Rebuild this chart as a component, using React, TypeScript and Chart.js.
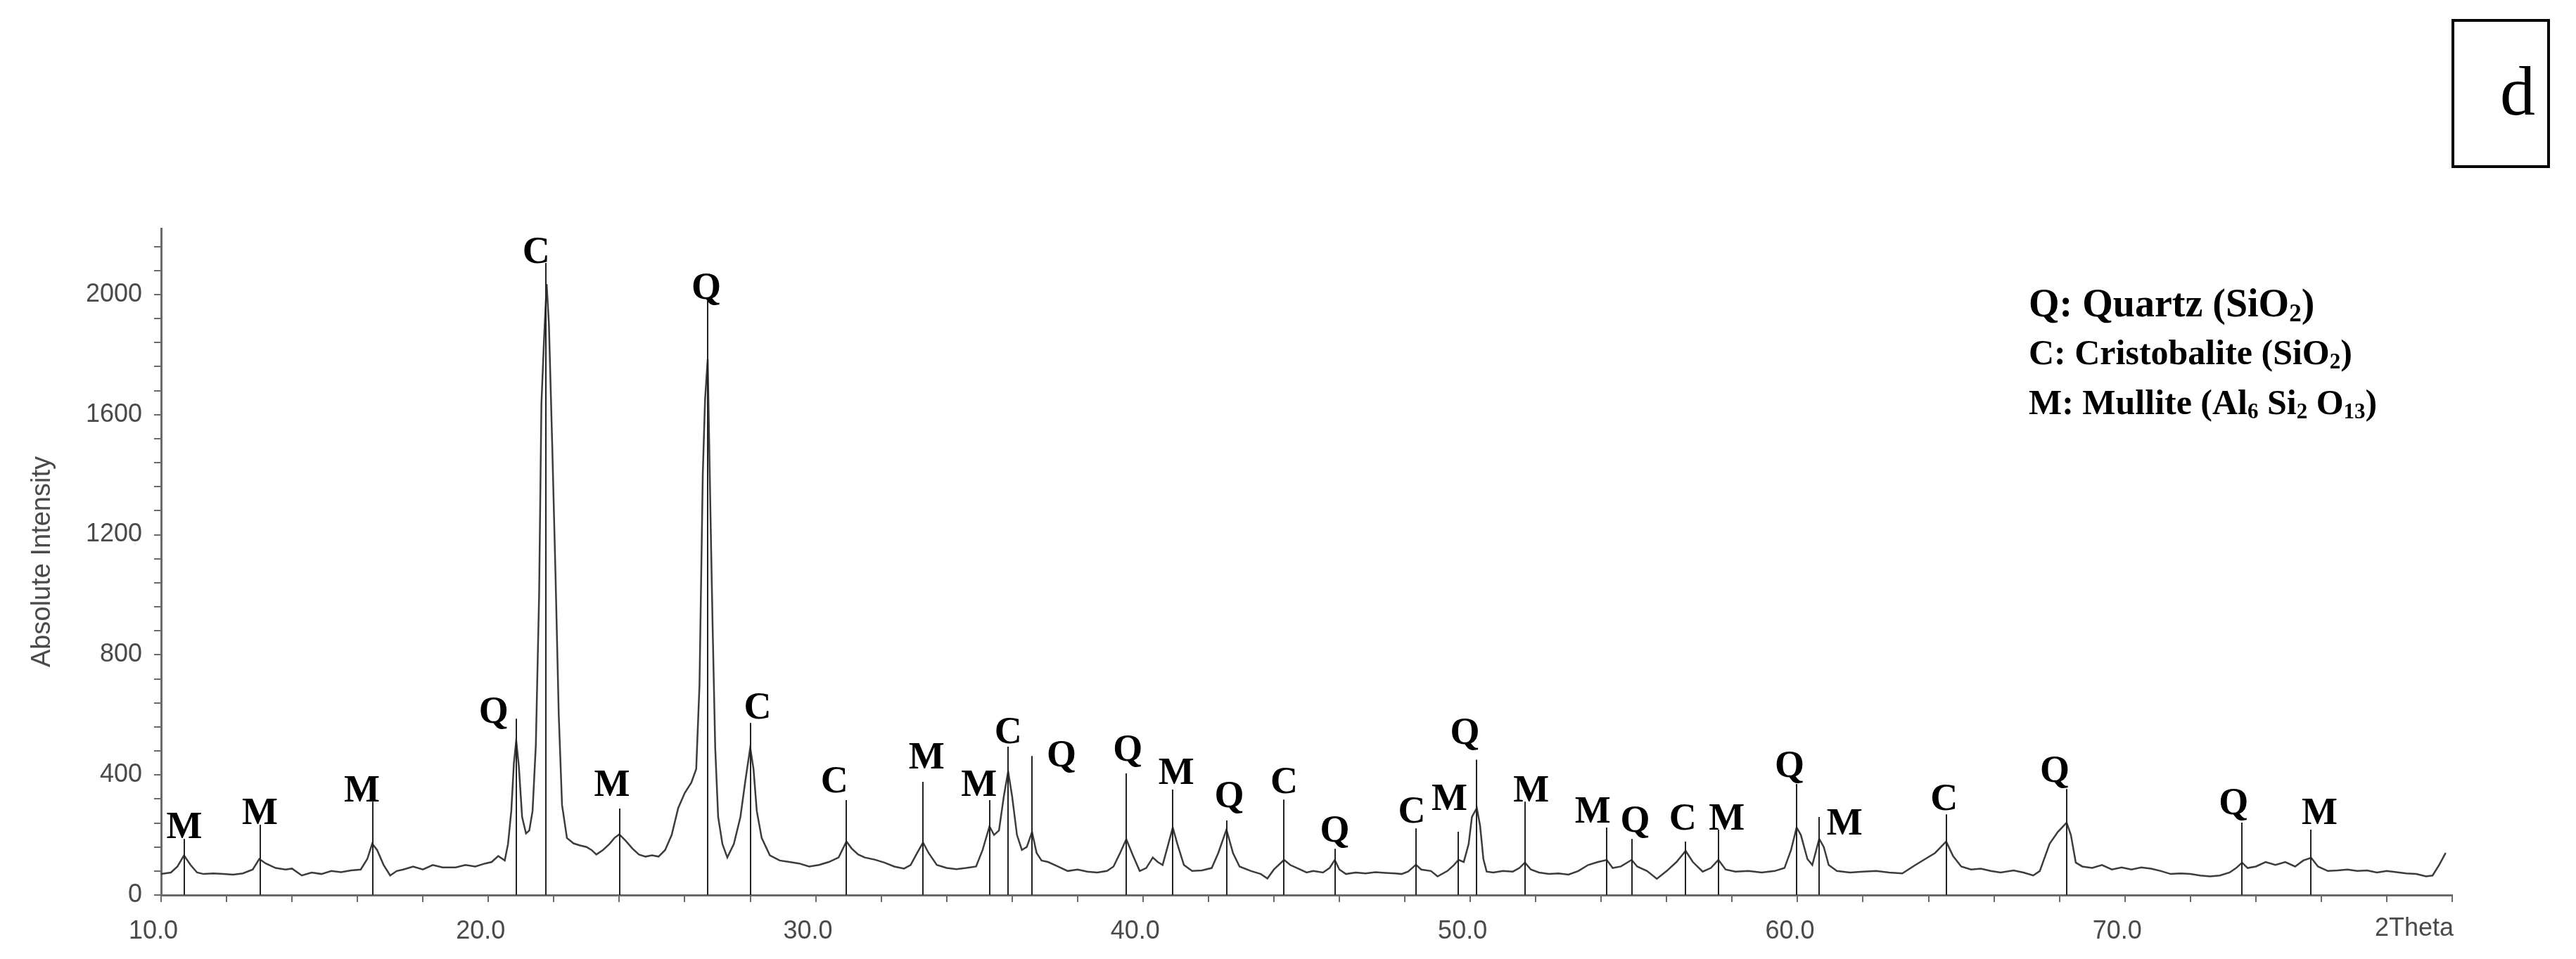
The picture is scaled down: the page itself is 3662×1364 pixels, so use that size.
import React, { useEffect, useRef } from 'react';
import { Chart, registerables } from 'chart.js';

Chart.register(...registerables);

// ---- Diffractogram (2Theta in degrees, counts) ----
const TWO_THETA: number[] = [
  10.0, 10.3, 10.5, 10.7, 10.9, 11.1, 11.3, 11.6, 11.9, 12.2, 12.5, 12.8, 13.0, 13.2, 13.5, 13.8,
  14.0, 14.3, 14.6, 14.9, 15.2, 15.5, 15.8, 16.1, 16.3, 16.45, 16.6, 16.8, 17.0, 17.2, 17.4, 17.7,
  18.0, 18.3, 18.6, 19.0, 19.3, 19.6, 19.9, 20.1, 20.3, 20.5, 20.6, 20.7, 20.78, 20.85, 20.93, 21.03,
  21.15, 21.25, 21.35, 21.45, 21.55, 21.62, 21.7, 21.78, 21.85, 21.95, 22.05, 22.15, 22.25, 22.4,
  22.6, 22.8, 23.0, 23.15, 23.3, 23.5, 23.7, 23.85, 24.0, 24.2, 24.4, 24.6, 24.8, 25.0, 25.2, 25.4,
  25.6, 25.8, 26.0, 26.2, 26.35, 26.45, 26.55, 26.62, 26.7, 26.78, 26.85, 26.93, 27.02, 27.15, 27.3,
  27.5, 27.7, 27.85, 28.0, 28.1, 28.2, 28.35, 28.6, 28.9, 29.2, 29.5, 29.8, 30.1, 30.4, 30.7, 30.94,
  31.1, 31.3, 31.5, 31.8, 32.1, 32.4, 32.7, 32.9, 33.1, 33.28, 33.45, 33.7, 34.0, 34.3, 34.6, 34.9,
  35.1, 35.31, 35.45, 35.6, 35.75, 35.88, 36.0, 36.15, 36.3, 36.45, 36.61, 36.75, 36.9, 37.1, 37.4,
  37.7, 38.0, 38.3, 38.6, 38.9, 39.1, 39.3, 39.49, 39.7, 39.9, 40.1, 40.3, 40.45, 40.6, 40.75, 40.91,
  41.05, 41.25, 41.5, 41.8, 42.1, 42.3, 42.55, 42.75, 42.95, 43.3, 43.6, 43.8, 44.0, 44.31, 44.5,
  44.8, 45.0, 45.2, 45.5, 45.7, 45.86, 46.0, 46.2, 46.5, 46.8, 47.1, 47.4, 47.7, 47.9, 48.1, 48.34,
  48.5, 48.8, 49.0, 49.3, 49.5, 49.64, 49.8, 49.95, 50.05, 50.2, 50.3, 50.4, 50.5, 50.7, 51.0, 51.3,
  51.5, 51.67, 51.85, 52.1, 52.4, 52.7, 53.0, 53.3, 53.6, 53.9, 54.17, 54.35, 54.6, 54.93, 55.1,
  55.4, 55.7, 56.0, 56.3, 56.58, 56.8, 57.1, 57.35, 57.58, 57.8, 58.1, 58.5, 58.9, 59.3, 59.6, 59.8,
  59.97, 60.1, 60.3, 60.45, 60.66, 60.8, 60.95, 61.2, 61.6, 62.0, 62.4, 62.8, 63.2, 63.6, 63.9, 64.2,
  64.54, 64.75, 65.0, 65.3, 65.6, 65.9, 66.2, 66.6, 66.9, 67.2, 67.4, 67.7, 67.95, 68.22, 68.35, 68.5,
  68.7, 69.0, 69.3, 69.6, 69.9, 70.2, 70.5, 70.8, 71.1, 71.4, 71.7, 72.0, 72.3, 72.6, 72.9, 73.2,
  73.4, 73.58, 73.75, 74.0, 74.3, 74.6, 74.9, 75.2, 75.45, 75.69, 75.9, 76.2, 76.5, 76.8, 77.1, 77.4,
  77.7, 78.0, 78.3, 78.6, 78.9, 79.2, 79.4, 79.6, 79.8,
];

const INTENSITY: number[] = [
  70, 75, 95, 132, 100, 75, 70, 72, 70, 68, 72, 85, 120, 105, 90, 85,
  88, 65, 75, 70, 80, 76, 82, 85, 120, 171, 150, 100, 65, 80, 85, 95,
  85, 100, 92, 92, 100, 95, 105, 110, 130, 115, 170, 280, 440, 515, 430, 260,
  205, 215, 280, 500, 1000, 1635, 1850, 2035, 1900, 1500, 1070, 600, 300, 190,
  172, 165, 160, 150, 135, 150, 170, 190, 202, 180, 155, 135, 128, 132, 128, 150,
  200, 290, 340, 374, 420, 700, 1400, 1650, 1785, 1300, 900, 490, 260, 170, 125,
  170, 260, 380, 491, 420, 280, 190, 132, 115, 110, 105, 95, 100, 110, 125, 178,
  155, 135, 125, 118, 108, 95, 88, 100, 140, 175, 140, 100, 90, 86, 90, 95,
  150, 229, 200, 215, 330, 412, 330, 200, 150, 160, 210, 140, 115, 110, 95,
  80, 85, 78, 75, 80, 95, 140, 186, 130, 80, 90, 125, 110, 100, 160, 225,
  170, 100, 80, 82, 90, 140, 218, 140, 95, 80, 70, 55, 85, 117, 100,
  85, 75, 80, 75, 90, 117, 85, 70, 75, 72, 76, 74, 72, 70, 78, 101,
  85, 80, 62, 80, 100, 117, 110, 170, 260, 290, 230, 120, 78, 75, 80, 78,
  90, 108, 85, 75, 70, 72, 68, 80, 100, 110, 117, 90, 95, 117, 95,
  80, 54, 80, 110, 147, 110, 78, 90, 117, 85, 78, 80, 75, 80, 90, 150,
  225, 200, 120, 100, 187, 160, 100, 80, 75, 78, 80, 75, 72, 100, 120, 140,
  178, 130, 95, 85, 88, 80, 75, 82, 75, 65, 80, 171, 210, 241, 200, 108,
  95, 90, 100, 85, 92, 85, 92, 88, 80, 70, 72, 70, 65, 62, 65, 75,
  90, 108, 90, 95, 110, 100, 110, 95, 115, 124, 95, 80, 82, 85, 80, 82,
  75, 80, 76, 72, 70, 62, 65, 100, 140,
];

// ---- Phase identification markers ----
const PEAK_THETA: number[] = [
  10.71, 13.02, 16.46, 20.85, 21.76, 24.01, 26.70, 28.01, 30.94, 33.28, 35.31, 35.88, 36.61, 39.49,
  40.91, 42.55, 44.31, 45.86, 48.34, 49.64, 50.20, 51.67, 54.17, 54.93, 56.58, 57.58, 59.97, 60.66,
  64.54, 68.22, 73.58, 75.69,
];
const PEAK_PHASE: string[] = [
  'M', 'M', 'M', 'Q', 'C', 'M', 'Q', 'C', 'C', 'M', 'M', 'C', 'Q', 'Q',
  'M', 'Q', 'C', 'Q', 'C', 'M', 'Q', 'M', 'M', 'Q', 'C', 'M', 'Q', 'M',
  'C', 'Q', 'Q', 'M',
];
// top of each marker stick, in counts
const PEAK_STICK: number[] = [
  187, 234, 311, 587, 2105, 288, 1979, 573, 316, 377, 316, 494, 463, 405,
  351, 248, 318, 154, 222, 211, 451, 311, 225, 187, 178, 218, 370, 260,
  269, 353, 241, 218,
];

// label placement (baseline level in counts, horizontal nudge in px)
const LABEL_LEVEL: number[] = [
  189, 236, 311, 573, 2105, 330, 1986, 587, 342, 421, 330, 505, 428, 447,
  370, 292, 339, 178, 241, 283, 503, 311, 241, 211, 218, 218, 393, 201,
  283, 377, 269, 236,
];
const LABEL_NUDGE: number[] = [
  0, 0, -15, -32, -14, -11, -2, 10, -17, 5, -15, 0, 42, 2,
  5, 4, 0, 0, -6, -13, -17, 9, -20, 5, -4, 12, -10, 36,
  -3, -17, -12, 12,
];

const LEGEND_LINES: { text: string; sub?: boolean }[][] = [
  [{ text: 'Q: Quartz (SiO' }, { text: '2', sub: true }, { text: ')' }],
  [{ text: 'C: Cristobalite (SiO' }, { text: '2', sub: true }, { text: ')' }],
  [
    { text: 'M: Mullite (Al' }, { text: '6', sub: true }, { text: ' Si' }, { text: '2', sub: true },
    { text: ' O' }, { text: '13', sub: true }, { text: ')' },
  ],
];
const LEGEND_SIZES = [56, 50, 50];

const X_LAST_LABEL = '2Theta';
const Y_TITLE = 'Absolute Intensity';
const PANEL_LETTER = 'd';

const SANS = '"Liberation Sans", Arial, sans-serif';
const SERIF = '"Liberation Serif", "Times New Roman", serif';
const AXIS_GRAY = '#6a6a6a';
const TEXT_GRAY = '#4a4a4a';

export default function App() {
  const canvasRef = useRef<HTMLCanvasElement | null>(null);

  useEffect(() => {
    const canvas = canvasRef.current;
    if (!canvas) return;

    const annotations = {
      id: 'xrdAnnotations',
      afterDraw(chart: any) {
        const { ctx } = chart;
        const xs = chart.scales.x;
        const ys = chart.scales.y;
        ctx.save();

        // marker sticks
        ctx.strokeStyle = '#222222';
        ctx.lineWidth = 2;
        PEAK_THETA.forEach((t, i) => {
          const px = Math.round(xs.getPixelForValue(t));
          ctx.beginPath();
          ctx.moveTo(px, ys.getPixelForValue(0));
          ctx.lineTo(px, ys.getPixelForValue(PEAK_STICK[i]));
          ctx.stroke();
        });

        // marker letters
        ctx.fillStyle = '#000000';
        ctx.font = `bold 54px ${SERIF}`;
        ctx.textAlign = 'center';
        ctx.textBaseline = 'alphabetic';
        PEAK_PHASE.forEach((p, i) => {
          const px = xs.getPixelForValue(PEAK_THETA[i]) + LABEL_NUDGE[i];
          const py = ys.getPixelForValue(LABEL_LEVEL[i]);
          ctx.fillText(p, px, py);
        });

        // last x label
        ctx.font = `36px ${SANS}`;
        ctx.fillStyle = TEXT_GRAY;
        ctx.textAlign = 'right';
        ctx.textBaseline = 'top';
        ctx.fillText(X_LAST_LABEL, xs.getPixelForValue(80) + 2, ys.getPixelForValue(0) + 30);

        // legend
        ctx.fillStyle = '#000000';
        ctx.textAlign = 'left';
        ctx.textBaseline = 'alphabetic';
        const legendX = 2884;
        const baselines = [450, 518, 589];
        LEGEND_LINES.forEach((segs, li) => {
          const size = LEGEND_SIZES[li];
          let cx = legendX;
          segs.forEach((s) => {
            const fs = s.sub ? Math.round(size * 0.62) : size;
            ctx.font = `bold ${fs}px ${SERIF}`;
            const dy = s.sub ? size * 0.12 : 0;
            ctx.fillText(s.text, cx, baselines[li] + dy);
            cx += ctx.measureText(s.text).width;
          });
        });

        // panel letter box
        ctx.strokeStyle = '#000000';
        ctx.lineWidth = 4;
        ctx.strokeRect(3487, 29, 136, 208);
        ctx.font = `100px ${SERIF}`;
        ctx.textAlign = 'center';
        ctx.fillText(PANEL_LETTER, 3579, 163);

        ctx.restore();
      },
    };

    const chart = new Chart(canvas, {
      type: 'line',
      data: {
        datasets: [
          {
            data: TWO_THETA.map((t, i) => ({ x: t, y: INTENSITY[i] })),
            borderColor: '#3c3c3c',
            borderWidth: 2.5,
            pointRadius: 0,
            tension: 0,
            fill: false,
          },
        ],
      },
      options: {
        responsive: false,
        animation: false,
        events: [],
        layout: { padding: { top: 325, right: 176, bottom: 0, left: 0 } },
        plugins: {
          legend: { display: false },
          tooltip: { enabled: false },
          title: { display: false },
        },
        scales: {
          x: {
            type: 'linear',
            min: 10,
            max: 80,
            afterFit: (s: any) => {
              s.height = 91;
            },
            border: { display: true, color: AXIS_GRAY, width: 3 },
            grid: {
              display: true,
              drawOnChartArea: false,
              drawTicks: true,
              tickLength: 10,
              color: AXIS_GRAY,
              lineWidth: 2,
            },
            ticks: {
              stepSize: 2,
              autoSkip: false,
              maxRotation: 0,
              labelOffset: -11,
              padding: 20,
              color: TEXT_GRAY,
              font: { family: SANS, size: 36 },
              callback: (v: any) => {
                const n = Number(v);
                return Math.abs(n % 10) < 1e-6 && n < 79 ? n.toFixed(1) : '';
              },
            },
          },
          y: {
            type: 'linear',
            min: 0,
            max: 2220,
            afterFit: (s: any) => {
              s.width = 229;
            },
            border: { display: true, color: AXIS_GRAY, width: 3 },
            grid: {
              display: true,
              drawOnChartArea: false,
              drawTicks: true,
              tickLength: 10,
              color: AXIS_GRAY,
              lineWidth: 2,
            },
            ticks: {
              stepSize: 80,
              includeBounds: false,
              autoSkip: false,
              padding: 17,
              color: TEXT_GRAY,
              font: { family: SANS, size: 36 },
              callback: (v: any) => {
                const n = Number(v);
                return Math.abs(n % 400) < 1e-6 ? String(n) : '';
              },
            },
            title: {
              display: true,
              text: Y_TITLE,
              color: TEXT_GRAY,
              font: { family: SANS, size: 38 },
              padding: { top: 38, bottom: 0 },
            },
          },
        },
      },
      plugins: [annotations],
    } as any);

    return () => {
      chart.destroy();
    };
  }, []);

  return (
    <canvas
      ref={canvasRef}
      width={3662}
      height={1364}
      style={{ position: 'absolute', left: 0, top: 0, width: '3662px', height: '1364px', background: '#ffffff' }}
    />
  );
}
